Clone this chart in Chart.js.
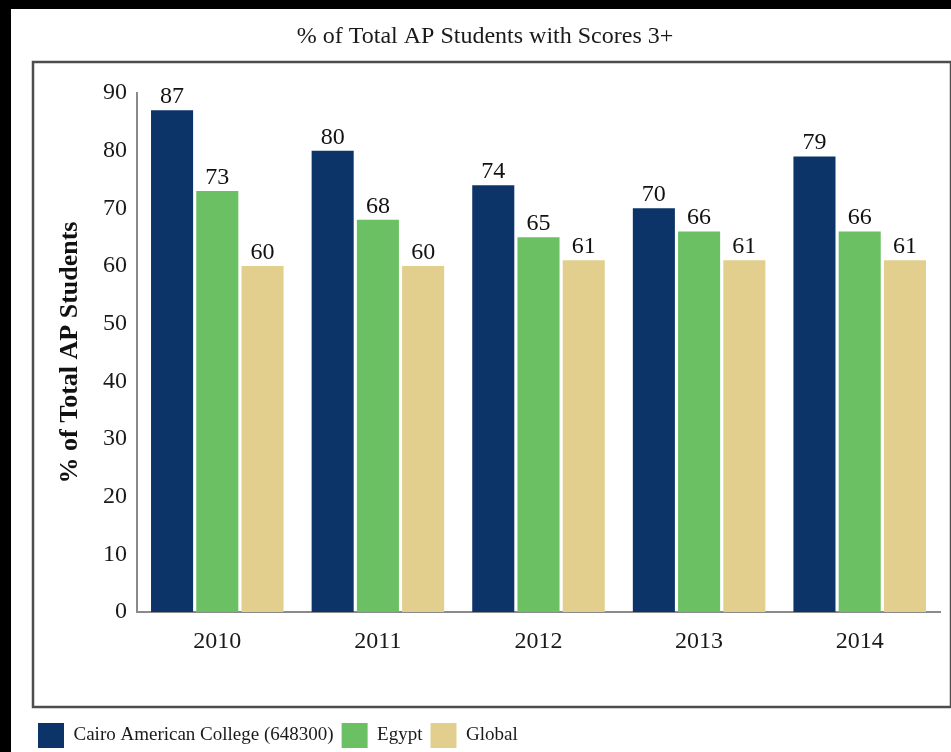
<!DOCTYPE html>
<html>
<head>
<meta charset="utf-8">
<script src="https://cdn.jsdelivr.net/npm/chart.js@4.4.0/dist/chart.umd.min.js"></script>
<style>
  html, body { margin: 0; padding: 0; background: #000; overflow: hidden; width: 951px; height: 752px; }
  #wrap { position: absolute; left: 11px; top: 9px; width: 940px; height: 749px; background: #fff; }
  canvas { display: block; }
</style>
</head>
<body>
<div id="wrap"><canvas id="c"></canvas></div>
<script>
const categories = ['2010', '2011', '2012', '2013', '2014'];
const seriesNames = ['Cairo American College (648300)', 'Egypt', 'Global'];
const cacValues = [87, 80, 74, 70, 79];
const egyptValues = [73, 68, 65, 66, 66];
const globalValues = [60, 60, 61, 61, 61];
const yTicks = [0, 10, 20, 30, 40, 50, 60, 70, 80, 90];
const chartTitle = '% of Total AP Students with Scores 3+';
const yAxisTitle = '% of Total AP Students';

const colors = ['#0d3468', '#6cc064', '#e2cf8e'];
const serif = "'Liberation Serif', 'Times New Roman', serif";

const frameAndLabels = {
  id: 'frameAndLabels',
  beforeDraw(chart) {
    const {ctx, chartArea} = chart;
    ctx.save();
    ctx.strokeStyle = '#4d4d4d';
    ctx.lineWidth = 2.5;
    ctx.strokeRect(chartArea.left - 104, chartArea.top - 31,
                   (chartArea.right + 11) - (chartArea.left - 104),
                   (chartArea.bottom + 95) - (chartArea.top - 31));
    ctx.restore();
  },
  afterDatasetsDraw(chart) {
    const {ctx} = chart;
    ctx.save();
    ctx.font = '24px ' + serif;
    ctx.fillStyle = '#111';
    ctx.textAlign = 'center';
    ctx.textBaseline = 'alphabetic';
    chart.data.datasets.forEach((ds, di) => {
      const meta = chart.getDatasetMeta(di);
      meta.data.forEach((bar, i) => {
        ctx.fillText(String(ds.data[i]), bar.x, bar.y - 7);
      });
    });
    ctx.restore();
  }
};

new Chart(document.getElementById('c'), {
  type: 'bar',
  data: {
    labels: categories,
    datasets: [
      { label: seriesNames[0], data: cacValues, backgroundColor: colors[0] },
      { label: seriesNames[1], data: egyptValues, backgroundColor: colors[1] },
      { label: seriesNames[2], data: globalValues, backgroundColor: colors[2] }
    ]
  },
  options: {
    responsive: true,
    maintainAspectRatio: false,
    animation: false,
    devicePixelRatio: 1,
    layout: { padding: { left: 19, right: 11, top: 0, bottom: 0 } },
    datasets: { bar: { categoryPercentage: 0.845, barPercentage: 0.93 } },
    plugins: {
      tooltip: { enabled: false },
      title: {
        display: true,
        text: chartTitle,
        color: '#1a1a1a',
        font: { family: serif, size: 24, weight: 'normal' },
        padding: { top: 13.6, bottom: 41.6 }
      },
      legend: {
        display: true,
        position: 'bottom',
        align: 'start',
        labels: {
          boxWidth: 26,
          boxHeight: 25,
          padding: 8,
          color: '#1a1a1a',
          font: { family: serif, size: 19 }
        }
      }
    },
    scales: {
      x: {
        grid: { display: false, drawTicks: false },
        border: { display: true, color: '#8a8a8a', width: 2 },
        ticks: { color: '#1a1a1a', font: { family: serif, size: 24 }, padding: 15 },
        afterFit(scale) { scale.height = 103; }
      },
      y: {
        min: 0,
        max: 90,
        grid: { display: false, drawTicks: false },
        border: { display: true, color: '#8a8a8a', width: 2 },
        afterBuildTicks(scale) { scale.ticks = yTicks.map(v => ({ value: v })); },
        ticks: { color: '#1a1a1a', font: { family: serif, size: 24 }, padding: 10 },
        title: {
          display: true,
          text: yAxisTitle,
          color: '#111',
          font: { family: serif, size: 26, weight: 'bold' },
          padding: { top: 24.4, bottom: 0 }
        },
        afterFit(scale) { scale.width = 107; }
      }
    }
  },
  plugins: [frameAndLabels]
});
</script>
</body>
</html>
